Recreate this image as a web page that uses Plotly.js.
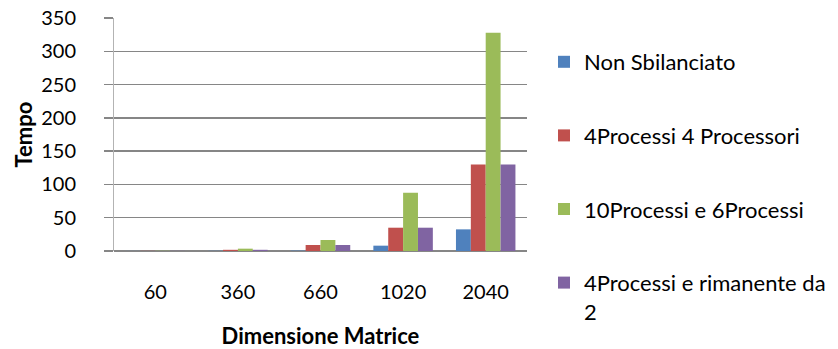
<!DOCTYPE html>
<html>
<head>
<meta charset="utf-8">
<script src="https://cdn.plot.ly/plotly-3.0.1.min.js"></script>
<style>
  html, body { margin: 0; padding: 0; background: #fff; }
  #chart { width: 838px; height: 349px; }
</style>
</head>
<body>
<div id="chart"></div>
<script>
const categories = ["60", "360", "660", "1020", "2040"];
const seriesNames = [
  "Non Sbilanciato",
  "4Processi 4 Processori",
  "10Processi e 6Processi",
  "4Processi e rimanente da<br>2"
];
const nonSbilanciato = [0.1, 0.3, 0.6, 8, 32.5];
const proc4proc4 = [0.2, 1.8, 9, 35, 130];
const proc10proc6 = [0.3, 3.5, 16.5, 87.5, 328];
const proc4rimanente = [0.2, 1.8, 9, 35, 130];
const yTicks = [0, 50, 100, 150, 200, 250, 300, 350];

const colors = ["#4F81BD", "#C0504D", "#9BBB59", "#8064A2"];
const values = [nonSbilanciato, proc4proc4, proc10proc6, proc4rimanente];
const FONT = "Lato, 'Open Sans', sans-serif";

const traces = values.map((v, i) => ({
  type: "bar",
  name: seriesNames[i],
  x: categories,
  y: v,
  marker: { color: colors[i], line: { width: 0 } },
  legendgroup: "g" + i,
  hoverinfo: "x+y+name"
}));

const layout = {
  width: 838,
  height: 349,
  margin: { l: 114, r: 311, t: 18, b: 98 },
  paper_bgcolor: "#ffffff",
  plot_bgcolor: "#ffffff",
  font: { family: FONT, color: "#000000", size: 20 },
  barmode: "group",
  bargap: 0.28,
  bargroupgap: 0,
  showlegend: true,
  legend: {
    xref: "container",
    yref: "container",
    x: 544 / 838,
    xanchor: "left",
    y: 1 - 41 / 349,
    yanchor: "top",
    maxheight: 345,
    traceorder: "grouped",
    tracegroupgap: 42,
    valign: "top",
    font: { family: FONT, size: 22, color: "#000000" },
    bgcolor: "rgba(0,0,0,0)",
    borderwidth: 0
  },
  xaxis: {
    type: "category",
    categoryorder: "array",
    categoryarray: categories,
    showgrid: false,
    showline: false,
    ticks: "",
    ticklabelstandoff: 27,
    tickfont: { family: FONT, size: 20, color: "#000000" },
    title: {
      text: "Dimensione Matrice",
      font: { family: FONT, size: 22, color: "#000000", weight: "bold" },
      standoff: 28
    },
    zeroline: false,
    fixedrange: true
  },
  yaxis: {
    range: [0, 350],
    tickvals: yTicks,
    ticktext: yTicks.map(String),
    showgrid: true,
    gridcolor: "#868686",
    gridwidth: 1.3,
    zeroline: true,
    zerolinecolor: "#868686",
    zerolinewidth: 2,
    showline: true,
    linecolor: "#b3b3b3",
    linewidth: 1,
    ticks: "outside",
    ticklen: 9,
    tickcolor: "#868686",
    tickwidth: 1.3,
    ticklabelstandoff: 24,
    tickfont: { family: FONT, size: 20, color: "#000000" },
    title: {
      text: "Tempo",
      font: { family: FONT, size: 22, color: "#000000", weight: "bold" },
      standoff: 2
    },
    fixedrange: true
  }
};

Plotly.newPlot("chart", traces, layout, { displayModeBar: false, staticPlot: true });
</script>
</body>
</html>
